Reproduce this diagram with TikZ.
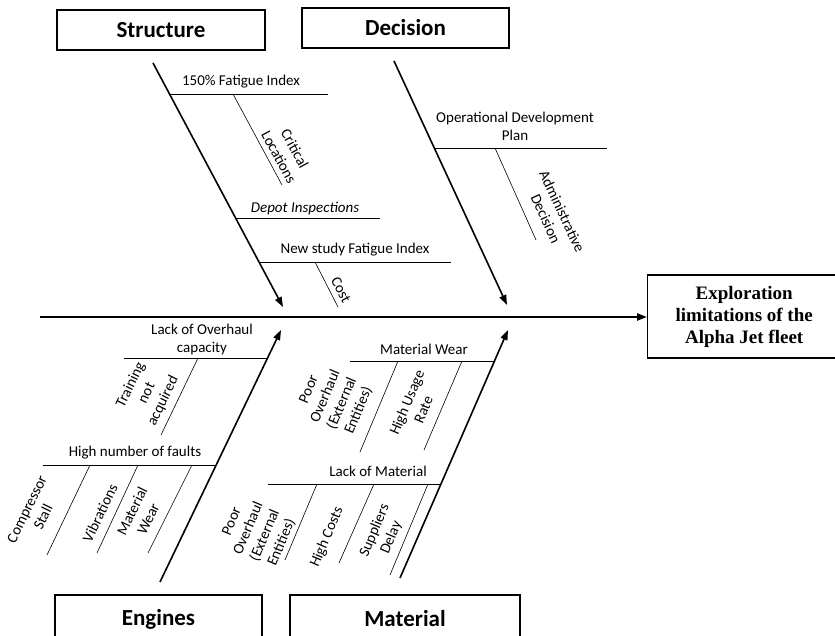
\documentclass[tikz,border=0pt]{standalone}
\usepackage{fontspec}
\setmainfont{Carlito}
\newfontfamily\effectfont{Liberation Serif}
\usetikzlibrary{arrows.meta}

\begin{document}
\begin{tikzpicture}[x=1pt, y=-1pt,
	catbox/.style={draw, line width=1.4pt, inner sep=0pt, font=\fontsize{23}{26}\selectfont\bfseries},
	bone/.style={line width=1.6pt, -{Triangle[length=10pt, width=7pt]}},
	rib/.style={line width=0.8pt},
	twig/.style={line width=0.6pt},
	cause/.style={font=\fontsize{15}{18}\selectfont, align=center, inner sep=0pt}]
			%%%%% START %%%%%
			\useasboundingbox (0, 0) rectangle (835, 636);
			
			\node[catbox, minimum width=208pt, minimum height=40pt] (structure) at (161, 30) {Structure};
			\node[catbox, minimum width=207pt, minimum height=40pt] (decision) at (405.5, 28) {Decision};
			\node[catbox, minimum width=207pt, minimum height=48pt] (engines) at (158.5, 619) {Engines};
			\node[catbox, minimum width=230pt, minimum height=48pt] (material) at (405, 619) {Material};
			\node[draw, line width=1.4pt, minimum width=193pt, minimum height=83pt, anchor=west, align=center,
				font=\effectfont\fontsize{19}{22}\selectfont\bfseries] (effect) at (647, 316.5)
				{Exploration\\limitations of the\\Alpha Jet fleet};
			
			\coordinate (tail) at (40, 317);
			\draw[line width=2.2pt, -{Triangle[length=10pt, width=7pt]}] (tail) -- (effect.west |- tail);
			
			\coordinate (s0) at (153, 63);   \coordinate (s1) at (283, 307);
			\coordinate (d0) at (394, 61);   \coordinate (d1) at (507, 305);
			\coordinate (e0) at (160, 582);  \coordinate (e1) at (281, 330);
			\coordinate (m0) at (400, 578);  \coordinate (m1) at (508, 330);
			\draw[bone] (s0) -- (s1);
			\draw[bone] (d0) -- (d1);
			\draw[bone] (e0) -- (e1);
			\draw[bone] (m0) -- (m1);
			
			% Structure
			\draw[rib] (169.5, 94) -- (328, 94);
			\node[cause] (fatigue) at (241, 82) {150\% Fatigue Index};
			\draw[twig] (233, 94) -- (282, 185);
			\node[cause, rotate=-61.5] (critical) at (287, 153) {Critical\\Locations};
			\draw[rib] (235.6, 218) -- (380, 218);
			\node[cause, font=\fontsize{15}{18}\selectfont\itshape] (depot) at (305, 209) {Depot Inspections};
			\draw[rib] (259, 262) -- (451, 262);
			\node[cause] (newstudy) at (355, 250) {New study Fatigue Index};
			\draw[twig] (315, 262) -- (338, 307);
			\node[cause, rotate=-62] (cost) at (341, 290) {Cost};
			
			% Decision
			\draw[rib] (434, 148) -- (607, 148);
			\node[cause] (plan) at (515, 126) {Operational Development\\Plan};
			\draw[twig] (495, 148) -- (536, 240);
			\node[cause, rotate=-65] (admin) at (554, 215) {Administrative\\Decision};
			
			% Engines
			\draw[rib] (124, 358) -- (267.6, 358);
			\node[cause] (overhaul) at (202, 340) {Lack of Overhaul\\capacity};
			\draw[twig] (198, 358) -- (161, 435);
			\node[cause, rotate=64] (training) at (147, 393) {Training\\not\\acquired};
			\draw[rib] (43, 465) -- (216, 465);
			\node[cause] (faults) at (135, 453) {High number of faults};
			\draw[twig] (90, 465) -- (47, 555);
			\node[cause, rotate=64] (stall) at (35, 513) {Compressor\\Stall};
			\draw[twig] (138, 465) -- (97, 553);
			\node[cause, rotate=64] (vibr) at (100, 513) {Vibrations};
			\draw[twig] (192, 465) -- (148, 553);
			\node[cause, rotate=64] (wearE) at (140, 515) {Material\\Wear};
			
			% Material
			\draw[rib] (350, 361) -- (494.5, 361);
			\node[cause] (wear) at (424, 349) {Material Wear};
			\draw[twig] (398, 361) -- (360, 452);
			\node[cause, rotate=67] (poorA) at (334, 400) {Poor\\Overhaul\\(External\\Entities)};
			\draw[twig] (462, 361) -- (424, 450);
			\node[cause, rotate=67] (usage) at (415, 406) {High Usage\\Rate};
			\draw[rib] (268, 484) -- (441, 484);
			\node[cause] (lack) at (378, 471) {Lack of Material};
			\draw[twig] (317, 484) -- (285, 560);
			\node[cause, rotate=67] (poorB) at (257, 532) {Poor\\Overhaul\\(External\\Entities)};
			\draw[twig] (374, 484) -- (339, 563);
			\node[cause, rotate=67] (costs) at (327, 537) {High Costs};
			\draw[twig] (428, 484) -- (390, 575);
			\node[cause, rotate=67] (delay) at (383, 534) {Suppliers\\Delay};
			
			%%%%% END %%%%%
\end{tikzpicture}
\end{document}
